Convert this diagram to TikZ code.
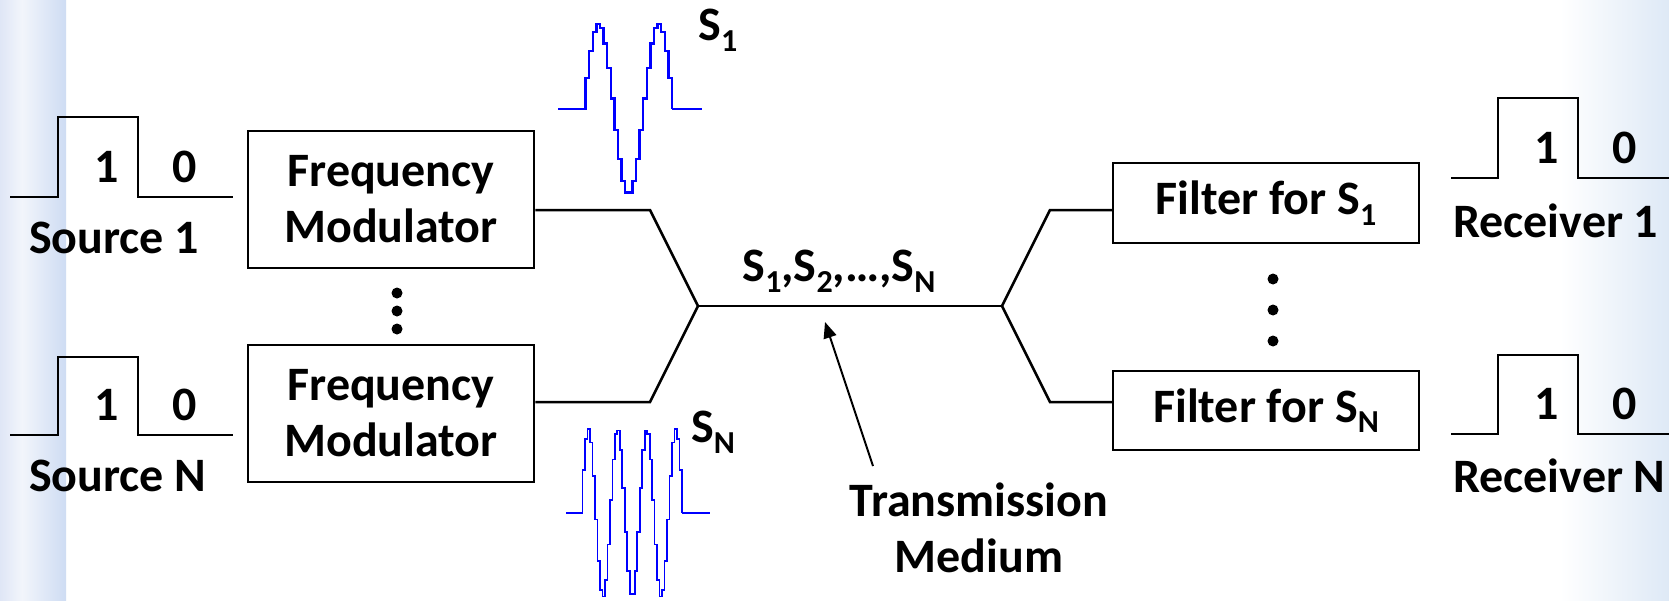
\documentclass[tikz,border=0pt]{standalone}
\usepackage{fontspec}
\setmainfont{Carlito}
\usetikzlibrary{arrows.meta}
\newcommand{\sbs}[1]{\raisebox{-0.22em}{\fontsize{32}{32}\selectfont #1}}
\definecolor{stripA}{RGB}{223,230,246}
\definecolor{stripB}{RGB}{242,245,251}
\definecolor{stripC}{RGB}{206,220,243}
\definecolor{cloud}{RGB}{222,233,246}
\definecolor{wave}{RGB}{0,0,255}
\begin{document}
\begin{tikzpicture}[x=1pt,y=-1pt,
  txt/.style={font=\fontsize{48}{56}\selectfont\bfseries, inner sep=0pt},
  blk/.style={txt, draw, line width=2.5pt, align=center},
  wire/.style={line width=2.5pt},
  sig/.style={wave, line width=2.4pt},
  sigthin/.style={wave, line width=1.7pt},
  dotm/.style={circle, fill, inner sep=0pt, minimum size=11pt}]
\useasboundingbox (0,0) rectangle (1669,600);
% background
\fill[white] (0,0) rectangle (1669,600);
\shade[left color=stripA, right color=stripB] (0,0) rectangle (22,600);
\shade[left color=stripB, right color=stripC] (22,0) rectangle (66,600);
\shade[left color=white, right color=cloud] (1560,0) rectangle (1669,600);

% modulators and filters
\node[blk, minimum width=286pt, minimum height=137pt] (m1) at (391,199.5) {Frequency\\Modulator};
\node[blk, minimum width=286pt, minimum height=137pt] (mN) at (391,413.5) {Frequency\\Modulator};
\node[blk, minimum width=306pt, minimum height=80pt] (f1) at (1266,203) {Filter for S\sbs{1}};
\node[blk, minimum width=306pt, minimum height=79pt] (fN) at (1266,410.5) {Filter for S\sbs{N}};

% connectors
\coordinate (a1) at (650,210); \coordinate (aN) at (650,402);
\coordinate (jl) at (698,306); \coordinate (jr) at (1002,306);
\coordinate (b1) at (1050,210); \coordinate (bN) at (1050,402);
\draw[wire] (m1.east |- a1) -- (a1) -- (jl) -- (aN) -- (mN.east |- aN);
\draw[wire] (jl) -- (jr);
\draw[wire] (f1.west |- b1) -- (b1) -- (jr) -- (bN) -- (fN.west |- bN);

% source pulses
\draw[wire] (10,197) -- (58,197) -- (58,117) -- (138,117) -- (138,197) -- (233,197);
\node[txt] (s1one) at (107,167) {1};
\node[txt] (s1zero) at (185,167) {0};
\node[txt, anchor=west] (src1) at (29,238) {Source 1};
\draw[wire] (10,435) -- (58,435) -- (58,357) -- (138,357) -- (138,435) -- (233,435);
\node[txt] (sNone) at (107,405) {1};
\node[txt] (sNzero) at (185,405) {0};
\node[txt, anchor=west] (srcN) at (29,476) {Source N};

% receiver pulses
\draw[wire] (1451,178) -- (1498,178) -- (1498,98) -- (1578,98) -- (1578,178) -- (1669,178);
\node[txt] (r1one) at (1547,148) {1};
\node[txt] (r1zero) at (1625,148) {0};
\node[txt, anchor=west] (rcv1) at (1453,221) {Receiver 1};
\draw[wire] (1451,434) -- (1498,434) -- (1498,355) -- (1578,355) -- (1578,434) -- (1669,434);
\node[txt] (rNone) at (1547,404) {1};
\node[txt] (rNzero) at (1625,404) {0};
\node[txt, anchor=west] (rcvN) at (1453,476) {Receiver N};

% vertical dots
\node[dotm] (dl1) at (397,293) {};
\node[dotm] (dl2) at (397,311) {};
\node[dotm] (dl3) at (397,329) {};
\node[dotm] (dr1) at (1273,279) {};
\node[dotm] (dr2) at (1273,310) {};
\node[dotm] (dr3) at (1273,341) {};

% waveforms
\draw[sig] (558,109) -- (582,109);
\draw[sig] plot[const plot, domain=582:672, samples=26] (\x,{109-85*sin(6*(\x-582))});
\draw[sig] (672,109) -- (702,109);
\draw[sigthin] (566,513) -- (580,513);
\draw[sigthin] plot[const plot, domain=580:682, samples=42] (\x,{513-84*sin(12.353*(\x-580))});
\draw[sigthin] (682,513) -- (710,513);

% labels
\node[txt] (lab1) at (718,30) {S\sbs{1}};
\node[txt] (labN) at (713,432) {S\sbs{N}};
\node[txt] (mid) at (839,271) {S\sbs{1},S\sbs{2},…,S\sbs{N}};
\node[txt, align=center] (tm) at (979,528) {Transmission\\Medium};
\coordinate (tail) at (873,466);
\coordinate (tip) at (825,322);
\draw[line width=2pt, -{Triangle[length=16pt,width=13pt]}] (tail) -- (tip);
\end{tikzpicture}
\end{document}
